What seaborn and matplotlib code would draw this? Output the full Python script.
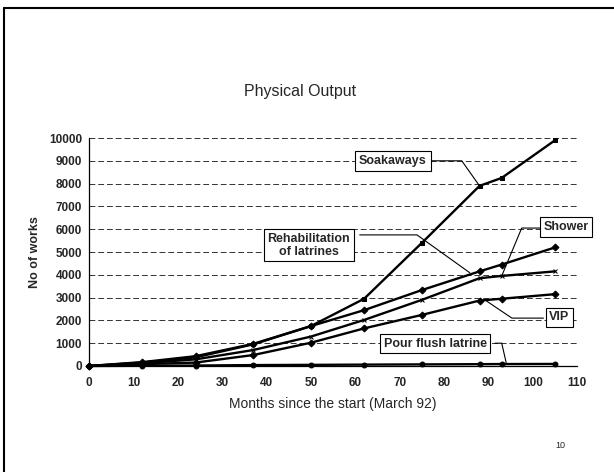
"""
Physical Output - recreated line chart.
"""

import matplotlib.pyplot as plt
from matplotlib.lines import Line2D
import seaborn as sns
import pandas as pd

months = [0, 12, 24, 37, 50, 62, 75, 88, 93, 105]
soakaways = [0, 150, 380, 950, 1750, 2950, 5400, 7900, 8250, 9900]
rehabilitation = [0, 170, 430, 970, 1750, 2450, 3330, 4150, 4450, 5200]
shower = [0, 120, 290, 700, 1290, 2020, 2900, 3850, 3950, 4150]
vip = [0, 80, 150, 480, 1020, 1650, 2240, 2870, 2950, 3150]
pour_flush = [0, 10, 20, 40, 50, 60, 70, 80, 85, 90]

x_ticks = list(range(0, 111, 10))
y_ticks = list(range(0, 10001, 1000))


def config_graf():
    sns.set_style("white")
    plt.rcParams.update({
        "font.family": ["Liberation Sans", "DejaVu Sans"],
        "axes.linewidth": 0.9,
        "axes.edgecolor": "black",
    })


def caixa(ax, texto, xy_txt, pontos):
    ax.text(*xy_txt, texto, ha="center", va="center", fontsize=9,
            fontweight="bold", zorder=6, linespacing=1.1,
            bbox=dict(boxstyle="square,pad=0.3", fc="white", ec="black", lw=0.8))
    xs, ys = zip(*pontos)
    ax.plot(xs, ys, color="black", lw=0.8, zorder=5, clip_on=False)


config_graf()

df = pd.DataFrame({
    "mes": months * 5,
    "valor": soakaways + rehabilitation + shower + vip + pour_flush,
    "serie": (["Soakaways"] * 10 + ["Rehabilitation of latrines"] * 10
              + ["Shower"] * 10 + ["VIP"] * 10 + ["Pour flush latrine"] * 10),
})

fig = plt.figure(figsize=(6.14, 4.72), dpi=100)
ax = fig.add_axes([0.145, 0.2246, 0.795, 0.483])

marcadores = {
    "Soakaways": "s",
    "Rehabilitation of latrines": "D",
    "Shower": "x",
    "VIP": "D",
    "Pour flush latrine": "o",
}
for nome, grupo in df.groupby("serie", sort=False):
    sns.lineplot(data=grupo, x="mes", y="valor", ax=ax, color="black",
                 lw=1.7, marker=marcadores[nome], markersize=3.5,
                 markeredgecolor="black", markerfacecolor="black",
                 clip_on=False, zorder=4)

ax.set_xlim(0, 110)
ax.set_ylim(0, 10000)
ax.set_xticks(x_ticks)
ax.set_yticks(y_ticks)
ax.yaxis.grid(True, color="#333333", linestyle=(0, (6, 3)), lw=0.7)
ax.set_axisbelow(True)
sns.despine(ax=ax)
ax.tick_params(direction="out", length=3, width=0.8, labelsize=8.5)
ax.tick_params(axis="y", pad=2)
ax.tick_params(axis="x", pad=5)
for lab in ax.get_xticklabels() + ax.get_yticklabels():
    lab.set_fontweight("bold")

ax.set_xlabel("Months since the start (March 92)", fontsize=10, labelpad=6)
ax.set_ylabel("No of works", fontsize=9, fontweight="bold", labelpad=6)
fig.text(0.489, 0.807, "Physical Output", fontsize=11.5, ha="center", va="center")

caixa(ax, "Soakaways", (68.5, 9000), [(76.5, 9000), (84, 9000), (88, 7900)])
caixa(ax, "Rehabilitation\nof latrines", (49.5, 5300),
      [(61, 5750), (73.9, 5750), (85.8, 4090)])
caixa(ax, "Shower", (107.5, 6100), [(102.3, 6050), (97.5, 6050), (93, 3950)])
caixa(ax, "VIP", (106, 2130), [(102.4, 2100), (95.3, 2100), (89.5, 2860)])
caixa(ax, "Pour flush latrine", (78, 985),
      [(91.5, 1000), (93, 1000), (94, 150)])

fig.text(0.905, 0.05, "10", fontsize=6.5)

# moldura do slide
fig.add_artist(Line2D([0.007, 0.007], [0.0, 0.983], color="black", lw=1.5))
fig.add_artist(Line2D([0.007, 1.0], [0.983, 0.983], color="black", lw=1.5))

fig.savefig("out.png", dpi=100)
